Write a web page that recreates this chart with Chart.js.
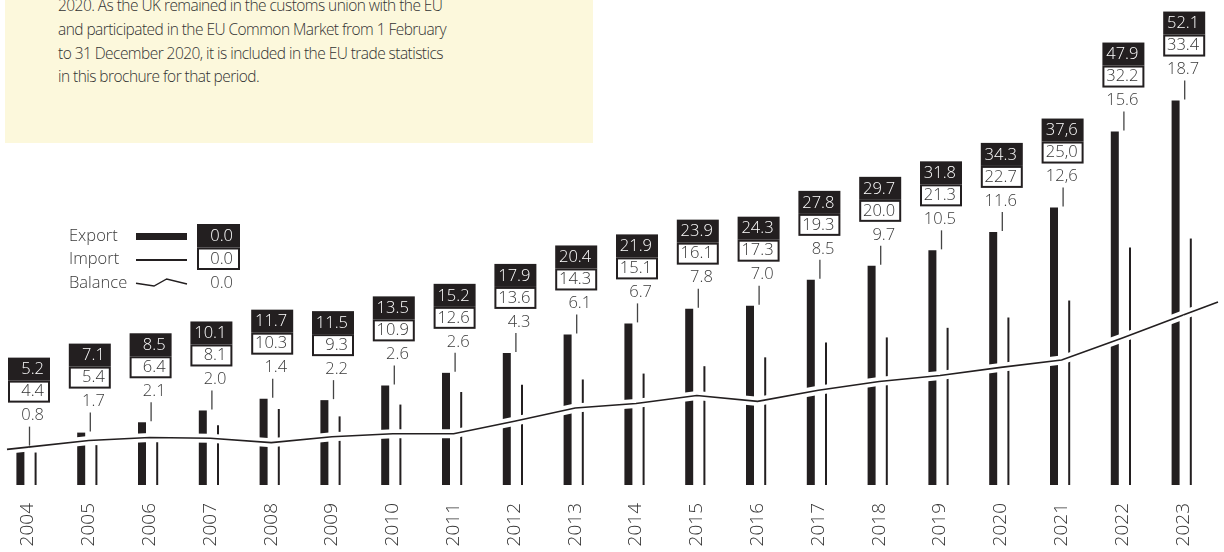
<!DOCTYPE html>
<html><head><meta charset="utf-8">
<script src="https://cdn.jsdelivr.net/npm/chart.js@4/dist/chart.umd.min.js"></script>
<style>
html,body{margin:0;padding:0;background:#fff;}
#wrap{position:relative;width:1224px;height:552px;overflow:hidden;}
#note{position:absolute;left:5px;top:0;width:588px;height:143px;background:#fcf8dc;z-index:2;}
#note p{margin:0;position:absolute;left:53px;top:-6px;font:350 15.5px 'Open Sans',sans-serif;letter-spacing:-0.55px;line-height:23.8px;color:#333;white-space:nowrap;}
canvas{position:absolute;left:0;top:0;}
</style></head><body>
<div id="wrap">
<div id="note"><p>2020. As the UK remained in the customs union with the EU<br>and participated in the EU Common Market from 1 February<br>to 31 December 2020, it is included in the EU trade statistics<br>in this brochure for that period.</p></div>
<canvas id="c" width="1224" height="552"></canvas>
</div>
<script>
const years = ['2004','2005','2006','2007','2008','2009','2010','2011','2012','2013','2014','2015','2016','2017','2018','2019','2020','2021','2022','2023'];
const exportValues = [5.2,7.1,8.5,10.1,11.7,11.5,13.5,15.2,17.9,20.4,21.9,23.9,24.3,27.8,29.7,31.8,34.3,37.6,47.9,52.1];
const importValues = [4.4,5.4,6.4,8.1,10.3,9.3,10.9,12.6,13.6,14.3,15.1,16.1,17.3,19.3,20.0,21.3,22.7,25.0,32.2,33.4];
const balanceValues = [0.8,1.7,2.1,2.0,1.4,2.2,2.6,2.6,4.3,6.1,6.7,7.8,7.0,8.5,9.7,10.5,11.6,12.6,15.6,18.7];
const commaYears = ['2021'];
const legendLabels = ['Export','Import','Balance'];
const legendValue = '0.0';

const INK = '#231f20';
const FONT = "'Open Sans', sans-serif";
const Y_MAX = 64.1;
const BAL_SHIFT = 4.337;

function fmt(v, i) {
  const s = v.toFixed(1);
  return commaYears.includes(years[i]) ? s.replace('.', ',') : s;
}

const annot = {
  id: 'annot',
  afterDatasetsDraw(chart) {
    const ctx = chart.ctx;
    const xs = chart.scales.x, ys = chart.scales.y;
    const pts = chart.getDatasetMeta(3).data;
    const n = pts.length;
    const a0 = pts[0], a1 = pts[1], b0 = pts[n - 2], b1 = pts[n - 1];
    const lx = 7, rx = 1218;
    const ly = a0.y + (a0.y - a1.y) / (a1.x - a0.x) * (a0.x - lx);
    const ry = b1.y + (b1.y - b0.y) / (b1.x - b0.x) * (rx - b1.x);
    ctx.save();
    ctx.lineCap = 'butt';
    [[ '#ffffff', 9 ], [ INK, 1.6 ]].forEach(([c, w]) => {
      ctx.strokeStyle = c; ctx.lineWidth = w;
      ctx.beginPath(); ctx.moveTo(a0.x, a0.y); ctx.lineTo(lx, ly); ctx.stroke();
      ctx.beginPath(); ctx.moveTo(b1.x, b1.y); ctx.lineTo(rx, ry); ctx.stroke();
    });
    ctx.font = '350 16.5px ' + FONT;
    ctx.textBaseline = 'middle';
    years.forEach((yr, i) => {
      const cx = xs.getPixelForValue(i);
      const T = ys.getPixelForValue(exportValues[i]);
      ctx.strokeStyle = '#444'; ctx.lineWidth = 1.3;
      ctx.beginPath(); ctx.moveTo(cx + 1.5, T - 20); ctx.lineTo(cx + 1.5, T - 1); ctx.stroke();
      ctx.fillStyle = INK;
      ctx.fillRect(cx - 20, T - 89, 42, 23);
      ctx.fillStyle = '#ffffff'; ctx.textAlign = 'right';
      ctx.fillText(fmt(exportValues[i], i), cx + 16, T - 77);
      ctx.strokeStyle = INK; ctx.lineWidth = 2;
      ctx.fillStyle = '#ffffff';
      ctx.fillRect(cx - 19, T - 65, 40, 20);
      ctx.strokeRect(cx - 19, T - 65, 40, 20);
      ctx.fillStyle = '#333';
      ctx.fillText(fmt(importValues[i], i), cx + 16, T - 55);
      ctx.fillStyle = '#3a3a3a';
      ctx.fillText(fmt(balanceValues[i], i), cx + 16, T - 31);
    });
    ctx.textAlign = 'left';
    ctx.fillStyle = '#3a3a3a';
    const ly0 = [236.5, 259.5, 283];
    legendLabels.forEach((t, k) => ctx.fillText(t, 69, ly0[k]));
    ctx.fillStyle = INK;
    ctx.fillRect(136, 233, 51, 7);
    ctx.fillRect(136, 259, 51, 2);
    ctx.strokeStyle = INK; ctx.lineWidth = 1.4;
    ctx.beginPath(); ctx.moveTo(136, 283.3); ctx.lineTo(154, 286); ctx.lineTo(166.7, 279); ctx.lineTo(187, 284); ctx.stroke();
    ctx.fillRect(197, 224, 43, 23.5);
    ctx.fillStyle = '#fff'; ctx.textAlign = 'right';
    ctx.fillText(legendValue, 233, 236);
    ctx.strokeStyle = INK; ctx.lineWidth = 2;
    ctx.strokeRect(198, 248.5, 41, 20.5);
    ctx.fillStyle = '#333';
    ctx.fillText(legendValue, 233, 259);
    ctx.fillStyle = '#3a3a3a';
    ctx.fillText(legendValue, 233, 283);
    ctx.restore();
  }
};

new Chart(document.getElementById('c'), {
  data: {
    labels: years,
    datasets: [
      { type: 'bar', label: 'Export', data: exportValues, backgroundColor: INK, maxBarThickness: 8, barPercentage: 1, categoryPercentage: 0.5, order: 2, yAxisID: 'y', clip: false },
      { type: 'bar', label: 'Import', data: importValues, backgroundColor: INK, maxBarThickness: 2, barPercentage: 1, categoryPercentage: 0.5, order: 2, yAxisID: 'y', clip: false },
      { type: 'line', label: 'BalanceHalo', data: balanceValues, borderColor: '#ffffff', borderWidth: 9, pointRadius: 0, tension: 0, order: 1, yAxisID: 'y2', clip: false, borderCapStyle: 'butt' },
      { type: 'line', label: 'Balance', data: balanceValues, borderColor: INK, borderWidth: 1.6, pointRadius: 0, tension: 0, order: 0, yAxisID: 'y2', clip: false }
    ]
  },
  options: {
    responsive: false,
    animation: false,
    devicePixelRatio: 1,
    layout: { padding: { left: 28, right: 22, top: 12, bottom: 0 } },
    plugins: { legend: { display: false }, tooltip: { enabled: false } },
    scales: {
      x: {
        offset: false,
        grid: { display: false, drawTicks: false },
        border: { display: false },
        ticks: { autoSkip: false, minRotation: 90, maxRotation: 90, padding: 18, color: '#333', font: { family: FONT, size: 19, weight: '350' } },
        afterFit(s) { s.height = 67; }
      },
      y: { display: false, min: 0, max: Y_MAX },
      y2: { display: false, min: -BAL_SHIFT, max: Y_MAX - BAL_SHIFT }
    }
  },
  plugins: [annot]
});
</script>
</body></html>
